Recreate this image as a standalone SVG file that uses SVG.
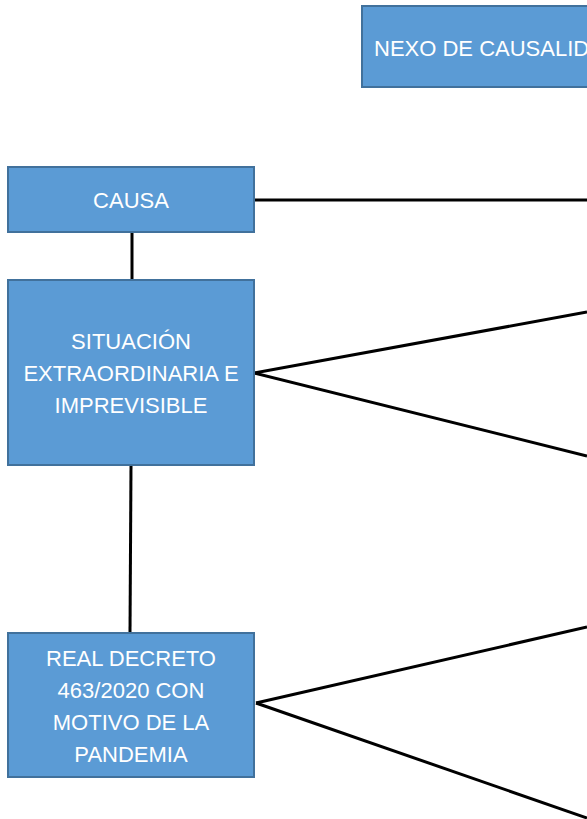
<svg xmlns="http://www.w3.org/2000/svg" width="587" height="819" viewBox="0 0 587 819">
<style>
.box{fill:#5B9BD5;stroke:#41719C;stroke-width:2}
.t{font-family:"Liberation Sans",Arial,sans-serif;font-size:22px;fill:#ffffff;text-anchor:middle}
.c{stroke:#000;stroke-width:3;fill:none}
</style>
<rect width="587" height="819" fill="#ffffff"/>
<g id="connectors">
<line class="c" x1="254" y1="200" x2="587" y2="200"/>
<line class="c" x1="132" y1="232" x2="132" y2="280"/>
<line class="c" x1="254" y1="373" x2="587" y2="312"/>
<line class="c" x1="254" y1="373" x2="587" y2="456"/>
<line class="c" x1="131" y1="465" x2="130" y2="633"/>
<line class="c" x1="256" y1="703" x2="587" y2="627"/>
<line class="c" x1="256" y1="703" x2="587" y2="818"/>
</g>
<g id="nexo">
<rect class="box" x="362" y="6" width="240" height="81"/>
<text class="t" x="374" y="56" style="text-anchor:start">NEXO DE CAUSALIDAD</text>
</g>
<g id="causa">
<rect class="box" x="8" y="167" width="246" height="65"/>
<text class="t" x="131" y="208">CAUSA</text>
</g>
<g id="situacion">
<rect class="box" x="8" y="280" width="246" height="185"/>
<text class="t" x="131" y="349">SITUACIÓN</text>
<text class="t" x="131" y="381">EXTRAORDINARIA E</text>
<text class="t" x="131" y="413">IMPREVISIBLE</text>
</g>
<g id="real-decreto">
<rect class="box" x="8" y="633" width="246" height="144"/>
<text class="t" x="131" y="666">REAL DECRETO</text>
<text class="t" x="131" y="698">463/2020 CON</text>
<text class="t" x="131" y="730">MOTIVO DE LA</text>
<text class="t" x="131" y="762">PANDEMIA</text>
</g>
</svg>
